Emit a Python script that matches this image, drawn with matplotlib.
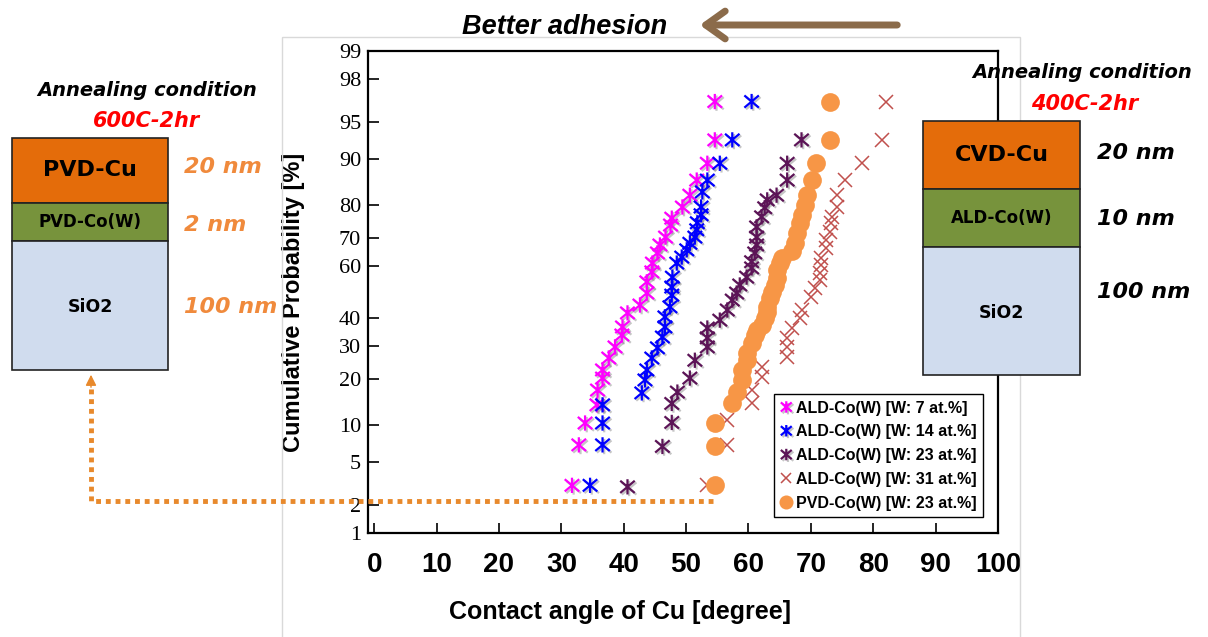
import matplotlib
matplotlib.use("Agg")
import matplotlib.pyplot as plt
import matplotlib.patheffects as pe
from matplotlib.patches import Rectangle, FancyArrowPatch
from matplotlib.lines import Line2D
from matplotlib.path import Path
from matplotlib.transforms import Affine2D
from statistics import NormalDist
import numpy as np

# ---- data (angle in degree, cumulative prob in %) ----
w7_angle = [31.7, 32.8, 33.8, 35.7, 35.8, 36.6, 36.6, 37.6, 38.6, 39.7, 39.8, 40.6, 42.6, 43.7,
            43.7, 44.5, 44.6, 45.4, 45.8, 46.7, 47.5, 47.7, 49.4, 50.6, 51.7, 53.4, 54.6, 54.6]
w7_prob = [3.1, 7.0, 10.3, 13.8, 17.2, 20.3, 22.6, 26.2, 29.8, 33.9, 36.8, 42.0, 45.0, 49.6,
           53.9, 57.7, 61.0, 64.7, 67.5, 70.2, 74.1, 76.2, 79.4, 82.5, 86.0, 89.3, 92.9, 96.7]

w14_angle = [34.6, 36.6, 36.6, 36.6, 42.9, 43.4, 43.7, 44.5, 45.4, 46.2, 46.6, 46.6, 47.4, 47.7, 47.7,
             47.8, 48.5, 49.3, 50.1, 50.6, 51.4, 51.7, 51.8, 52.4, 52.4, 52.6, 53.4, 55.4, 57.4, 60.5]
w14_prob = [3.1, 7.0, 10.3, 13.8, 16.5, 19.8, 22.6, 26.2, 29.5, 33.2, 36.8, 40.5, 44.3, 48.8, 51.9,
            55.7, 61.0, 63.2, 65.8, 68.1, 70.2, 72.6, 74.8, 77.2, 79.4, 83.3, 86.0, 89.3, 92.9, 96.7]

w23_angle = [40.6, 46.2, 47.7, 47.7, 48.6, 50.6, 51.4, 53.4, 53.4, 53.4, 55.4, 56.6, 57.4, 58.1, 58.6,
             59.7, 60.5, 60.5, 61.0, 61.3, 61.3, 61.3, 62.1, 62.6, 63.0, 64.5, 66.2, 66.2, 68.5]
w23_prob = [3.0, 6.8, 10.4, 14.1, 16.7, 20.3, 25.5, 29.8, 32.9, 36.4, 39.3, 43.1, 46.9, 49.6, 52.7,
            55.7, 59.2, 61.5, 64.7, 67.5, 70.2, 73.5, 76.6, 79.2, 81.3, 82.5, 86.0, 89.3, 92.9]

w31_angle = [53.4, 56.6, 56.6, 60.6, 60.5, 62.2, 62.2, 66.2, 66.2, 66.2, 67.0, 68.2, 68.6, 70.1, 70.6,
             71.4, 71.4, 71.7, 71.7, 72.5, 72.5, 73.0, 73.3, 73.4, 74.2, 74.2, 75.4, 78.2, 81.4, 82.1]
w31_prob = [3.1, 7.0, 10.8, 14.1, 17.2, 20.6, 23.4, 26.5, 29.8, 32.9, 36.4, 40.1, 43.1, 48.1, 51.5,
            54.6, 57.3, 60.3, 63.0, 66.5, 69.3, 71.9, 74.8, 76.6, 79.4, 82.5, 86.0, 89.3, 92.9, 96.7]

pvd_angle = [54.6, 54.6, 54.6, 57.4, 58.2, 58.9, 59.0, 59.7, 59.7, 60.5, 61.0, 61.4, 62.1, 62.6, 62.9,
             63.0, 63.4, 63.8, 64.2, 64.5, 64.6, 65.0, 65.4, 66.9, 67.4, 67.8, 68.2, 68.5, 69.0, 69.4,
             70.2, 70.9, 73.0, 73.0]
pvd_prob = [3.1, 6.8, 10.3, 14.1, 16.7, 19.8, 22.6, 25.5, 27.8, 31.0, 33.9, 35.7, 37.6, 40.1, 42.3,
            44.3, 47.7, 50.0, 52.7, 55.4, 58.4, 61.0, 63.0, 65.3, 68.1, 71.6, 74.8, 77.2, 80.0, 82.5,
            86.0, 89.3, 92.9, 96.7]

labels = ["ALD-Co(W) [W: 7 at.%]", "ALD-Co(W) [W: 14 at.%]", "ALD-Co(W) [W: 23 at.%]",
          "ALD-Co(W) [W: 31 at.%]", "PVD-Co(W) [W: 23 at.%]"]
prob_ticks = [1, 2, 5, 10, 20, 30, 40, 60, 70, 80, 90, 95, 98, 99]
angle_ticks = [0, 10, 20, 30, 40, 50, 60, 70, 80, 90, 100]

probit = np.vectorize(NormalDist().inv_cdf)


def z(p):
    return probit(np.asarray(p, dtype=float) / 100.0)


SANS = "Liberation Sans"

fig = plt.figure(figsize=(12.08, 6.37), dpi=100)
px = Affine2D().scale(1 / 1208, -1 / 637).translate(0, 1) + fig.transFigure

# light frame around the chart area
fig.add_artist(Rectangle((282, 37), 738, 610, transform=px, fill=False, ec="#d9d9d9", lw=1))

ax = fig.add_axes([368 / 1208, 1 - 533 / 637, 630 / 1208, 482 / 637])

# asterisk marker: X plus a vertical bar
star = Path([(0, -1), (0, 1), (-0.95, -0.8), (0.95, 0.8), (-0.95, 0.8), (0.95, -0.8)],
            [Path.MOVETO, Path.LINETO] * 3)
shadow = [pe.SimpleLineShadow(offset=(1.2, -1.2), shadow_color="gray", alpha=0.45), pe.Normal()]
ax.plot(w7_angle, z(w7_prob), ls="none", marker=star, ms=11, mew=1.6, color="#FF00FF",
        label=labels[0], path_effects=shadow)
ax.plot(w14_angle, z(w14_prob), ls="none", marker=star, ms=11, mew=1.6, color="#0000FF",
        label=labels[1], path_effects=shadow)
ax.plot(w23_angle, z(w23_prob), ls="none", marker=star, ms=11, mew=1.6, color="#5C1457",
        label=labels[2], path_effects=shadow)
ax.plot(w31_angle, z(w31_prob), ls="none", marker="x", ms=10, mew=1.1, color="#C0504D",
        label=labels[3])
ax.plot(pvd_angle, z(pvd_prob), ls="none", marker="o", ms=13.5, mew=0, color="#F79646",
        label=labels[4])

ax.set_xlim(-1, 100)
ax.set_ylim(z(1), z(99))
ax.set_xticks(angle_ticks)
ax.set_xticklabels([str(a) for a in angle_ticks], fontfamily=SANS, fontweight="bold", fontsize=20)
ax.set_yticks(z(prob_ticks))
ax.set_yticklabels([str(p) for p in prob_ticks], fontfamily="Liberation Serif", fontsize=16)
ax.tick_params(axis="x", direction="in", length=7, width=1.2, pad=14)
ax.tick_params(axis="y", direction="in", length=8, width=1.2, pad=5)
for s in ax.spines.values():
    s.set_linewidth(1.6)

ax.set_xlabel("Contact angle of Cu [degree]", fontfamily=SANS, fontweight="bold", fontsize=18)
ax.xaxis.set_label_coords(0.40, -0.139)
ax.set_ylabel("Cumulative Probability [%]", fontfamily=SANS, fontweight="bold", fontsize=17)
ax.yaxis.set_label_coords(-0.100, 0.479)

leg = ax.legend(loc="lower right", bbox_to_anchor=(0.976, 0.033), borderaxespad=0,
                prop={"family": SANS, "weight": "bold", "size": 11.5}, markerscale=0.75,
                handlelength=0.7, handletextpad=0.25, labelspacing=0.55, borderpad=0.4,
                fancybox=False, framealpha=1, edgecolor="black")
leg.get_frame().set_linewidth(1.0)

# ---- top arrow ----
fig.text(565, 27, "Better adhesion", transform=px, ha="center", va="center",
         fontfamily=SANS, fontweight="bold", fontstyle="italic", fontsize=19.5)
fig.add_artist(FancyArrowPatch((900, 25), (697, 25), transform=px,
                               arrowstyle="->,head_length=0.7,head_width=0.5",
                               color="#8B6B4A", lw=5, mutation_scale=20))

# ---- layer stacks ----
ORANGE_L = "#E46C0A"
GREEN_L = "#77933C"
BLUE_L = "#D0DCEE"


def stack(x0, x1, ys, names, sizes):
    fills = [ORANGE_L, GREEN_L, BLUE_L]
    for i in range(3):
        fig.add_artist(Rectangle((x0, ys[i]), x1 - x0, ys[i + 1] - ys[i], transform=px,
                                 fc=fills[i], ec="#222222", lw=1.2, zorder=5))
        fig.text((x0 + x1) / 2, (ys[i] + ys[i + 1]) / 2 + (2 if i == 2 else 0), names[i],
                 transform=px, ha="center", va="center", fontweight="bold",
                 fontsize=sizes[i], zorder=6)


stack(12, 168, [138, 203, 241, 370], ["PVD-Cu", "PVD-Co(W)", "SiO2"], [16, 12, 12.5])
stack(923, 1080, [121, 189, 247, 375], ["CVD-Cu", "ALD-Co(W)", "SiO2"], [16, 12, 12.5])

fig.text(147, 90, "Annealing condition", transform=px, ha="center", va="center",
         fontweight="bold", fontstyle="italic", fontsize=14, zorder=6)
fig.text(147, 121, "600C-2hr", transform=px, ha="center", va="center", color="#FF0000",
         fontweight="bold", fontstyle="italic", fontsize=15, zorder=6)
fig.text(1082, 73, "Annealing condition", transform=px, ha="center", va="center",
         fontweight="bold", fontstyle="italic", fontsize=14, zorder=6)
fig.text(1085, 104, "400C-2hr", transform=px, ha="center", va="center", color="#FF0000",
         fontweight="bold", fontstyle="italic", fontsize=15, zorder=6)

for y, t in [(167, "20 nm"), (225, "2 nm"), (307, "100 nm")]:
    fig.text(184, y, t, transform=px, ha="left", va="center", color="#F08A3C",
             fontweight="bold", fontstyle="italic", fontsize=16)
for y, t in [(153, "20 nm"), (219, "10 nm"), (292, "100 nm")]:
    fig.text(1097, y, t, transform=px, ha="left", va="center", color="black",
             fontweight="bold", fontstyle="italic", fontsize=16)

# ---- dotted orange guide back to the PVD stack ----
DOT = "#E8892C"
fig.add_artist(Line2D([713, 91, 91], [501, 501, 385], transform=px, color=DOT, lw=3.5,
                      ls=(0, (1, 1)), solid_capstyle="butt", dash_capstyle="butt"))
fig.add_artist(FancyArrowPatch((91, 390), (91, 372), transform=px, arrowstyle="-|>",
                               color=DOT, lw=1, mutation_scale=16))

fig.savefig("out.png", dpi=100)
